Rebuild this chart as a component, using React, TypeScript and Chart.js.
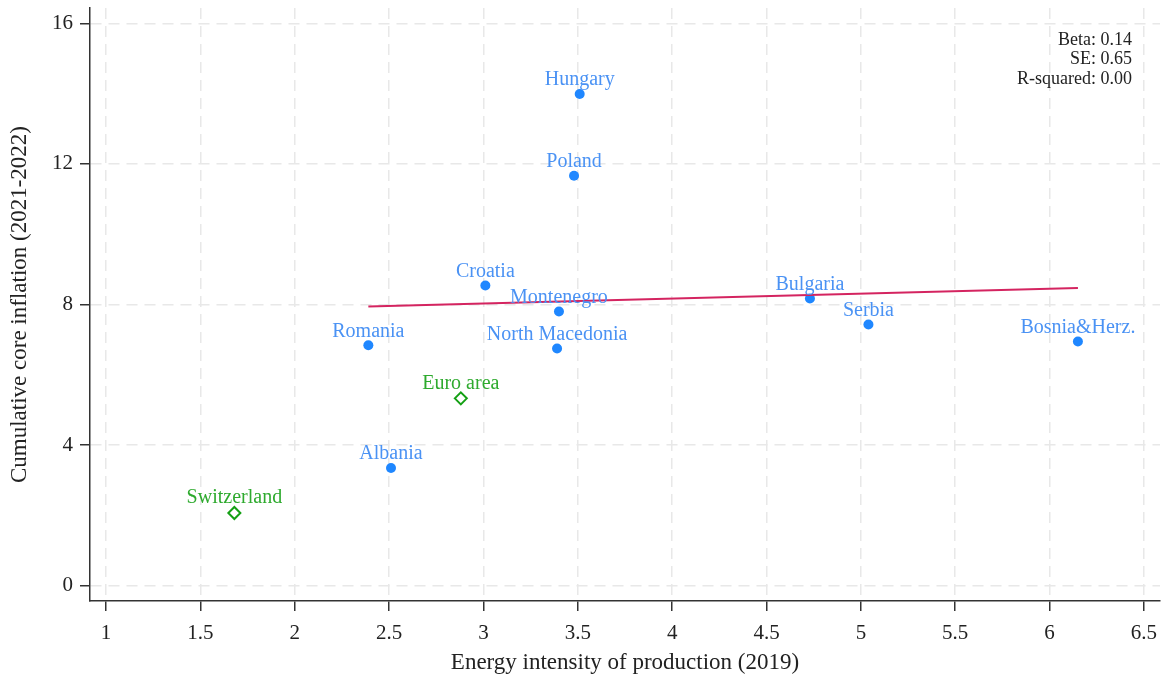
import React, { useEffect, useRef } from 'react';
import { Chart, registerables } from 'chart.js';

Chart.register(...registerables);

const countries = ['Hungary', 'Poland', 'Croatia', 'Montenegro', 'North Macedonia', 'Romania', 'Albania', 'Bulgaria', 'Serbia', 'Bosnia&Herz.'];
const countryEnergy = [3.51, 3.48, 3.01, 3.40, 3.39, 2.39, 2.51, 4.73, 5.04, 6.15];
const countryInflation = [13.99, 11.66, 8.54, 7.80, 6.75, 6.84, 3.35, 8.17, 7.43, 6.95];

const benchmarks = ['Euro area', 'Switzerland'];
const benchmarkEnergy = [2.88, 1.68];
const benchmarkInflation = [5.33, 2.07];

const fitEnergy = [2.39, 6.15];
const fitInflation = [7.94, 8.47];

const xTicks = [1, 1.5, 2, 2.5, 3, 3.5, 4, 4.5, 5, 5.5, 6, 6.5];
const yTicks = [0, 4, 8, 12, 16];

const statsLines = ['Beta: 0.14', 'SE: 0.65', 'R-squared: 0.00'];

const xTitle = 'Energy intensity of production (2019)';
const yTitle = 'Cumulative core inflation (2021-2022)';

const FONT = "'Liberation Serif', 'Times New Roman', serif";
const BLUE = '#1f87ff';
const BLUE_LABEL = '#4a92f4';
const GREEN = '#14a014';
const GREEN_LABEL = '#2eaa2e';
const FIT = '#d42460';

const labelPlugin = {
  id: 'pointLabels',
  afterDatasetsDraw(chart: any) {
    const { ctx, scales, chartArea } = chart;
    const xs = scales.x;
    const ys = scales.y;
    ctx.save();
    ctx.font = `20px ${FONT}`;
    ctx.textAlign = 'center';
    ctx.textBaseline = 'middle';
    ctx.fillStyle = BLUE_LABEL;
    countries.forEach((name, i) => {
      ctx.fillText(name, xs.getPixelForValue(countryEnergy[i]), ys.getPixelForValue(countryInflation[i]) - 14);
    });
    ctx.fillStyle = GREEN_LABEL;
    benchmarks.forEach((name, i) => {
      ctx.fillText(name, xs.getPixelForValue(benchmarkEnergy[i]), ys.getPixelForValue(benchmarkInflation[i]) - 15);
    });
    ctx.font = `18px ${FONT}`;
    ctx.textAlign = 'right';
    ctx.fillStyle = '#222';
    statsLines.forEach((t, i) => {
      ctx.fillText(t, chartArea.right - 28, chartArea.top + 32 + i * 19.5);
    });
    ctx.restore();
  },
};

export default function App() {
  const ref = useRef<HTMLCanvasElement>(null);

  useEffect(() => {
    document.body.style.margin = '0';
    const chart = new Chart(ref.current!, {
      type: 'scatter',
      data: {
        datasets: [
          {
            label: 'Fit',
            data: fitEnergy.map((x, i) => ({ x, y: fitInflation[i] })),
            showLine: true,
            borderColor: FIT,
            borderWidth: 2,
            pointRadius: 0,
            fill: false,
          },
          {
            label: 'Countries',
            data: countryEnergy.map((x, i) => ({ x, y: countryInflation[i] })),
            backgroundColor: BLUE,
            borderColor: BLUE,
            pointRadius: 5,
            borderWidth: 0,
          },
          {
            label: 'Benchmarks',
            data: benchmarkEnergy.map((x, i) => ({ x, y: benchmarkInflation[i] })),
            pointStyle: 'rectRot',
            backgroundColor: 'rgba(255,255,255,0)',
            borderColor: GREEN,
            borderWidth: 2,
            pointRadius: 6,
          },
        ],
      },
      options: {
        animation: false,
        responsive: true,
        maintainAspectRatio: false,
        layout: { padding: { top: 7, right: 7, left: 0, bottom: 0 } },
        plugins: { legend: { display: false }, tooltip: { enabled: false } },
        scales: {
          x: {
            type: 'linear',
            min: 0.915,
            max: 6.585,
            afterBuildTicks: (scale: any) => {
              scale.ticks = xTicks.map((v) => ({ value: v }));
            },
            afterFit: (scale: any) => {
              scale.height = 80;
              scale.paddingLeft = 0;
              scale.paddingRight = 0;
            },
            ticks: {
              color: '#222',
              font: { family: FONT, size: 21 },
              padding: 10,
              maxRotation: 0,
              autoSkip: false,
              callback: (v: any) => String(v),
            },
            grid: {
              color: '#e8e8e8',
              lineWidth: 1.5,
              tickColor: '#333',
              tickWidth: 1.5,
              tickLength: 10,
              drawTicks: true,
            },
            border: { display: true, color: '#333', width: 1.5, dash: [11, 7] },
            title: {
              display: true,
              text: xTitle,
              color: '#222',
              font: { family: FONT, size: 23 },
              padding: { top: 0, bottom: 4 },
            },
          },
          y: {
            type: 'linear',
            min: -0.434,
            max: 16.434,
            afterBuildTicks: (scale: any) => {
              scale.ticks = yTicks.map((v) => ({ value: v }));
            },
            afterFit: (scale: any) => {
              scale.width = 90;
              scale.paddingTop = 0;
              scale.paddingBottom = 0;
            },
            ticks: {
              color: '#222',
              font: { family: FONT, size: 21 },
              padding: 7,
              autoSkip: false,
              callback: (v: any) => String(v),
            },
            grid: {
              color: '#e8e8e8',
              lineWidth: 1.5,
              tickColor: '#333',
              tickWidth: 1.5,
              tickLength: 10,
              drawTicks: true,
            },
            border: { display: true, color: '#333', width: 1.5, dash: [11, 7] },
            title: {
              display: true,
              text: yTitle,
              color: '#222',
              font: { family: FONT, size: 23 },
              padding: { top: 6, bottom: 0 },
            },
          },
        },
      },
      plugins: [labelPlugin],
    });
    return () => chart.destroy();
  }, []);

  return (
    <div style={{ position: 'absolute', left: 0, top: 0, width: 1168, height: 681 }}>
      <canvas ref={ref} />
    </div>
  );
}
